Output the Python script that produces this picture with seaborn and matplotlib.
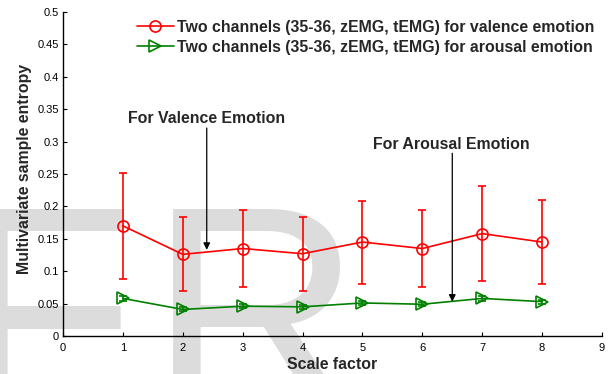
import matplotlib
matplotlib.use("Agg")
import matplotlib.pyplot as plt
import seaborn as sns
import numpy as np
import pandas as pd

# ---- data ----
scale = [1, 2, 3, 4, 5, 6, 7, 8]
valence_mean = [0.170, 0.126, 0.135, 0.127, 0.145, 0.135, 0.158, 0.145]
valence_err = [0.082, 0.057, 0.060, 0.057, 0.064, 0.060, 0.073, 0.065]
arousal_mean = [0.058, 0.041, 0.046, 0.045, 0.051, 0.049, 0.058, 0.053]
arousal_err = [0.004, 0.003, 0.003, 0.003, 0.003, 0.003, 0.004, 0.003]
label_valence = "Two channels (35-36, zEMG, tEMG) for valence emotion"
label_arousal = "Two channels (35-36, zEMG, tEMG) for arousal emotion"
xticks = list(range(0, 10))
yticks = [0, 0.05, 0.1, 0.15, 0.2, 0.25, 0.3, 0.35, 0.4, 0.45, 0.5]
ytick_labels = ["0", "0.05", "0.1", "0.15", "0.2", "0.25", "0.3", "0.35", "0.4", "0.45", "0.5"]

sns.set_style("ticks")
plt.rcParams["font.family"] = ["Liberation Sans", "DejaVu Sans"]

W, H = 612, 374
fig = plt.figure(figsize=(W / 100, H / 100), dpi=100)
fig.patch.set_facecolor("white")

# watermark
wm_color = "#dcdcdc"
fig.text(-44 / W, 1 - 198 / H, "F", fontsize=212, color=wm_color, ha="left", va="top", zorder=-5)
fig.text(149 / W, 1 - 198 / H, "R", fontsize=212, color=wm_color, ha="left", va="top", zorder=-5)

ax = fig.add_axes([63 / W, 38 / H, (602 - 63) / W, (336 - 12) / H])
ax.patch.set_alpha(0)

df_v = pd.DataFrame({"x": scale, "y": valence_mean})
df_a = pd.DataFrame({"x": scale, "y": arousal_mean})

ax.errorbar(scale, valence_mean, yerr=valence_err, fmt="none", ecolor="red",
            elinewidth=1.2, capsize=3, capthick=1.2, zorder=2)
ax.errorbar(scale, arousal_mean, yerr=arousal_err, fmt="none", ecolor="green",
            elinewidth=1.2, capsize=3, capthick=1.2, zorder=2)

sns.lineplot(data=df_v, x="x", y="y", ax=ax, color="red", marker="o", markersize=8,
             markerfacecolor="none", markeredgecolor="red", markeredgewidth=1.2,
             linewidth=1.2, label=label_valence, zorder=3)
sns.lineplot(data=df_a, x="x", y="y", ax=ax, color="green", marker=">", markersize=8,
             markerfacecolor="none", markeredgecolor="green", markeredgewidth=1.2,
             linewidth=1.2, label=label_arousal, zorder=3)

ax.set_xlim(0, 9)
ax.set_ylim(0, 0.5)
ax.set_xticks(xticks)
ax.set_yticks(yticks)
ax.set_yticklabels(ytick_labels)
ax.tick_params(direction="in", length=3, width=0.8, labelsize=8, colors="black")
ax.tick_params(axis="x", pad=5)
ax.tick_params(axis="y", pad=3)
for s in ["top", "right"]:
    ax.spines[s].set_visible(False)
for s in ["left", "bottom"]:
    ax.spines[s].set_linewidth(1.0)
    ax.spines[s].set_color("black")

ax.set_xlabel("Scale factor", fontsize=11.4, fontweight="bold", labelpad=3)
ax.set_ylabel("Multivariate sample entropy", fontsize=11.4, fontweight="bold")
ax.yaxis.set_label_coords(-0.0575, 0.515)

leg = ax.legend(loc="upper right", frameon=False, handlelength=2.3,
                handletextpad=0.2, labelspacing=0.3, borderaxespad=0.1,
                prop={"weight": "bold", "size": 11.4})

# annotations
ax.text(2.4, 0.335, "For Valence Emotion", fontsize=11.4, fontweight="bold",
        ha="center", va="center")
ax.annotate("", xy=(2.4, 0.133), xytext=(2.4, 0.321),
            arrowprops=dict(arrowstyle="-|>", color="black", lw=0.9,
                            mutation_scale=10, shrinkA=0, shrinkB=0))
ax.text(6.49, 0.295, "For Arousal Emotion", fontsize=11.4, fontweight="bold",
        ha="center", va="center")
ax.annotate("", xy=(6.5, 0.053), xytext=(6.5, 0.282),
            arrowprops=dict(arrowstyle="-|>", color="black", lw=0.9,
                            mutation_scale=10, shrinkA=0, shrinkB=0))

fig.savefig("out.png", dpi=100)
